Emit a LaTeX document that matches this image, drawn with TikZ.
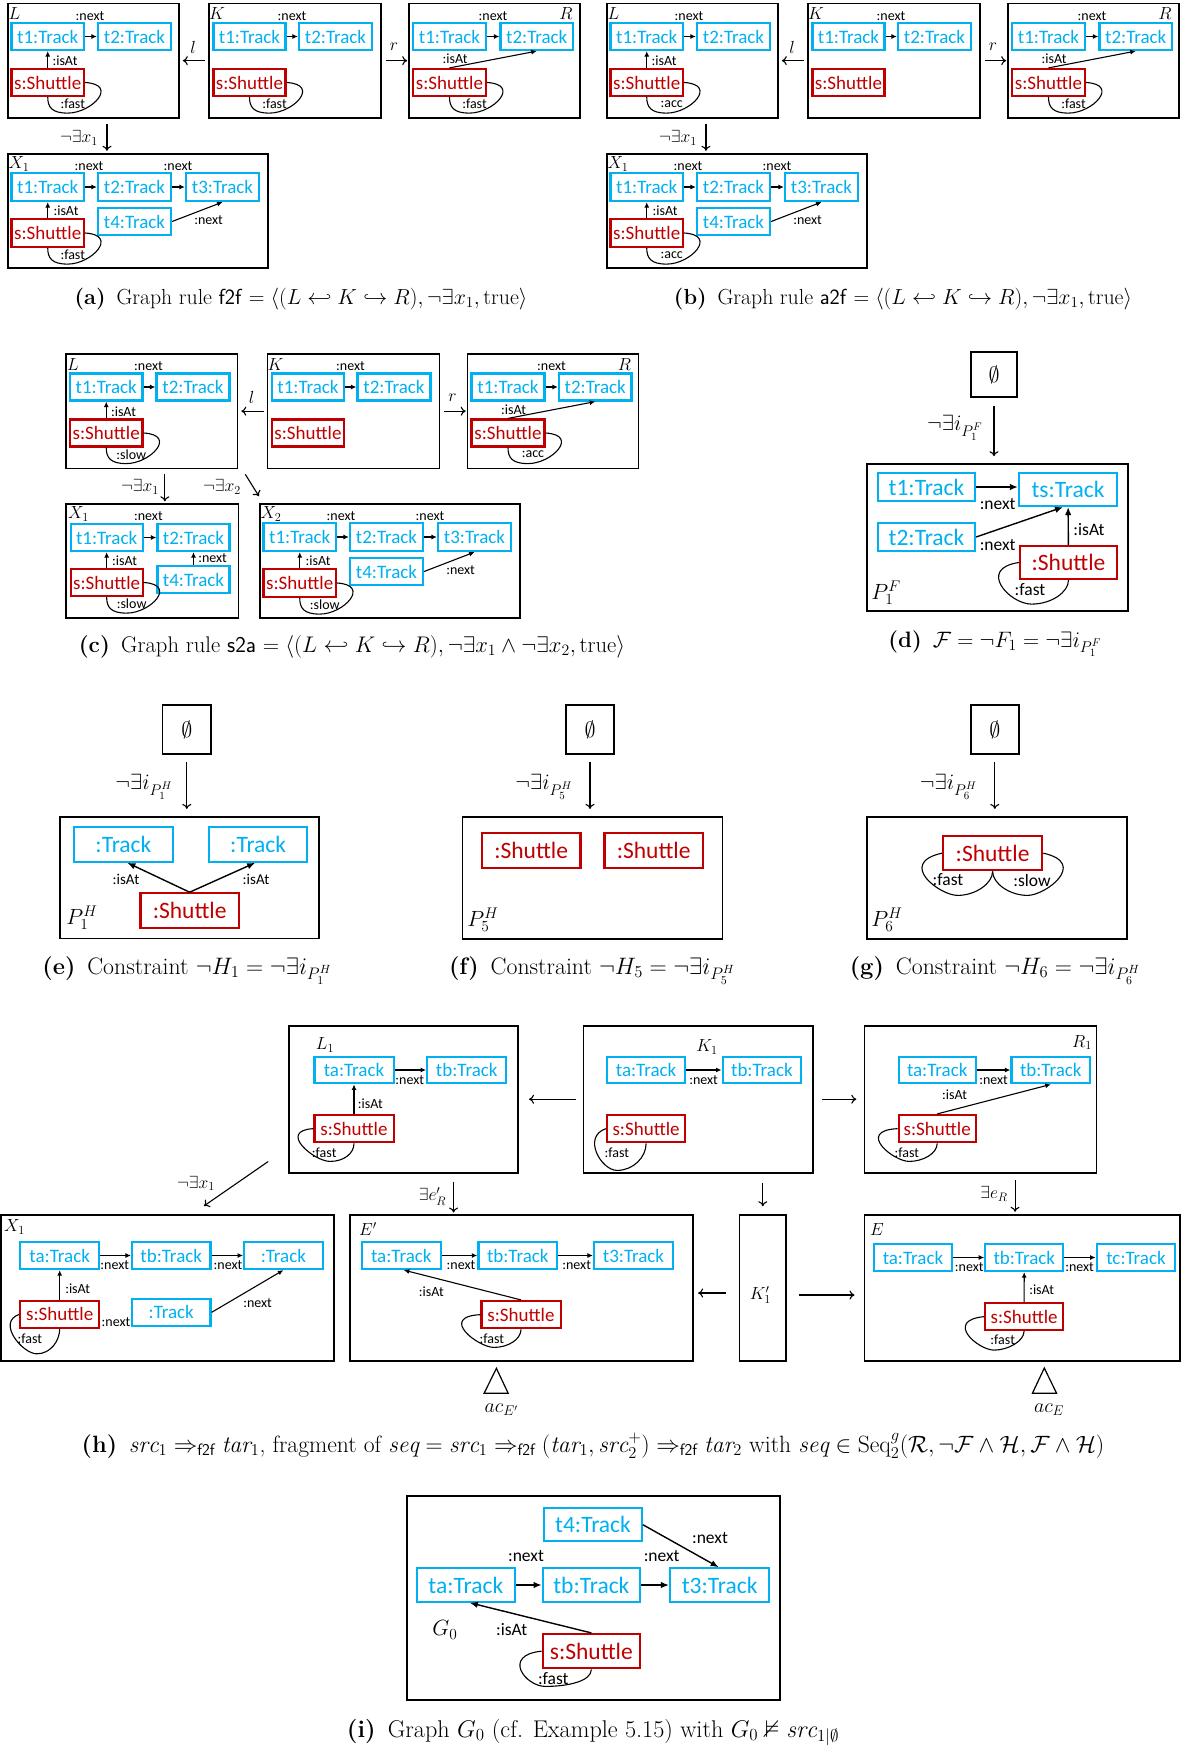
\RequirePackage{fix-cm}
\documentclass[tikz,border=0pt]{standalone}
\usepackage{amsmath,amssymb}
\usepackage{fontspec}
\newfontfamily\carl{Carlito}
\usetikzlibrary{arrows.meta,calc}

\definecolor{trkc}{RGB}{0,176,240}
\definecolor{shuc}{RGB}{192,0,0}

\newcommand\nfA{\carl\fontsize{19}{21}\selectfont}
\newcommand\nfB{\carl\fontsize{23.5}{26}\selectfont}
\newcommand\lfA{\carl\fontsize{14}{16}\selectfont}
\newcommand\lfB{\carl\fontsize{17.5}{19}\selectfont}
\newcommand\lfE{\carl\fontsize{15}{17}\selectfont}
\newcommand\mfA{\fontsize{17.5}{19}\selectfont}
\newcommand\mfB{\fontsize{22}{24}\selectfont}
\newcommand\mfC{\fontsize{20}{22}\selectfont}

\tikzset{
  trk/.style={draw=trkc,text=trkc,line width=2.2pt,inner sep=0pt},
  shu/.style={draw=shuc,text=shuc,line width=2.2pt,inner sep=0pt},
  frm/.style={draw=black,line width=1.6pt,inner sep=0pt},
  nA/.style={font=\nfA}, nB/.style={font=\nfB},
  lA/.style={font=\lfA,inner sep=0pt}, lB/.style={font=\lfB,inner sep=0pt},
  lE/.style={font=\lfE,inner sep=0pt},
  mA/.style={font=\mfA,inner sep=0pt}, mB/.style={font=\mfB,inner sep=0pt},
  mC/.style={font=\mfC,inner sep=0pt},
  edg/.style={-{Latex[length=5.5pt,width=5pt]},line width=1.1pt},
  edgB/.style={-{Latex[length=8pt,width=6.5pt]},line width=1.4pt},
  mor/.style={-{Computer Modern Rightarrow[length=5pt,width=9pt]},line width=1.1pt},
  lp/.style={line width=1.1pt},
  captxt/.style={font=\fontsize{#1}{#1}\selectfont,inner sep=0pt,anchor=base},
}

\newcounter{lbc}
% free label
\newcommand\Lb[4]{\stepcounter{lbc}\node[#1] (lb\arabic{lbc}) at (#2,#3) {#4};}
% box given by its corners
\newcommand\Bx[7]{\node[#6,minimum width={(#4)-(#2)},minimum height={(#5)-(#3)}] (#1) at ({((#2)+(#4))/2},{((#3)+(#5))/2}) {#7};}
% self loop hanging to the lower right of a node
\newcommand\LoopR[2]{%
  \draw[lp] (#1.east) .. controls +(34,2) and +(24,0) .. ($(#1.south)+(20,16)$)
     .. controls +(-16,0) and +(0,10) .. (#1.south);
  \node[lA] (#1lp) at ($(#1.south)+(25,7)$) {#2};}

% span L <- K -> R of a rule
\newcommand\RuleTop[4]{%
  \Bx{#1L}{7.7}{3.3}{179}{118}{frm}{}
  \Bx{#1K}{209}{3.3}{381}{118}{frm}{}
  \Bx{#1R}{409}{3.3}{580}{118}{frm}{}
  \Bx{#1La}{11.5}{23}{84}{50}{trk,nA}{t1:Track}
  \Bx{#1Lb}{98}{23}{171}{50}{trk,nA}{t2:Track}
  \Bx{#1Ls}{11.5}{69}{84}{96}{shu,nA}{s:Shuttle}
  \Bx{#1Ka}{213.5}{23}{285.5}{50}{trk,nA}{t1:Track}
  \Bx{#1Kb}{299}{23}{372}{50}{trk,nA}{t2:Track}
  \Bx{#1Ks}{213.5}{69}{285.5}{96}{shu,nA}{s:Shuttle}
  \Bx{#1Ra}{413}{23}{486}{50}{trk,nA}{t1:Track}
  \Bx{#1Rb}{500.5}{23}{573}{50}{trk,nA}{t2:Track}
  \Bx{#1Rs}{413}{69}{486}{96}{shu,nA}{s:Shuttle}
  \draw[edg] (#1La) -- (#1Lb);
  \draw[edg] (#1Ka) -- (#1Kb);
  \draw[edg] (#1Ra) -- (#1Rb);
  \draw[edg] (#1Ls) -- (#1La);
  \draw[edg] (#1Rs.north) -- (#1Rb.south);
  \LoopR{#1Ls}{#2}
  \if\relax\detokenize{#3}\relax\else\LoopR{#1Ks}{#3}\fi
  \LoopR{#1Rs}{#4}
  \Lb{mA}{14.5}{14}{$L$}
  \Lb{mA}{217}{14}{$K$}
  \Lb{mA}{566}{14}{$R$}
  \Lb{lA}{90}{16}{:next}
  \Lb{lA}{292}{16}{:next}
  \Lb{lA}{493}{16}{:next}
  \Lb{lA}{65}{61}{:isAt}
  \Lb{lA}{455}{59}{:isAt}
  \draw[mor,shorten <=3pt,shorten >=3pt] (#1K.west) -- (#1L.east);
  \draw[mor,shorten <=4pt,shorten >=1pt] (#1K.east) -- (#1R.west);
  \Lb{mA}{193}{47}{$l$}
  \Lb{mA}{394}{47}{$r$}
}

% application condition graph with four tracks
\newcommand\XGraph[3]{%
  \Bx{#1}{7.7}{154}{268}{268}{frm}{}
  \Bx{#1a}{11.5}{173}{84}{201}{trk,nA}{t1:Track}
  \Bx{#1b}{98}{173}{171}{201}{trk,nA}{t2:Track}
  \Bx{#1c}{186}{173}{259}{201}{trk,nA}{t3:Track}
  \Bx{#1d}{98}{208}{171}{235}{trk,nA}{t4:Track}
  \Bx{#1s}{11.5}{219}{84}{247}{shu,nA}{s:Shuttle}
  \draw[edg] (#1a) -- (#1b);
  \draw[edg] (#1b) -- (#1c);
  \draw[edg] (#1s) -- (#1a);
  \draw[edg] (#1d.east) -- (#1c.south);
  \LoopR{#1s}{#3}
  \Lb{mA}{19}{164}{$#2$}
  \Lb{lA}{89}{166}{:next}
  \Lb{lA}{178}{166}{:next}
  \Lb{lA}{66}{211}{:isAt}
  \Lb{lA}{208.6}{220}{:next}
}

\begin{document}
\begin{tikzpicture}[x=1pt,y=-1pt]
\useasboundingbox (0,0) rectangle (1182,1749);
\fill[white] (0,0) rectangle (1182,1749);

% ---------- (a) rule f2f ----------
\RuleTop{a}{:fast}{:fast}{:fast}
\XGraph{aX}{X_1}{:fast}
\draw[mor] ([xshift=13.6pt,yshift=-5pt]aL.south) -- ++(0,27);
\Lb{mA}{79}{138}{$\neg\exists x_1$}
\node[captxt=21.8] (capa) at (301,304.5) {\textbf{(a)}\enspace Graph rule \textsf{f2f} $=\langle(L\hookleftarrow K\hookrightarrow R),\neg\exists x_1,\mathrm{true}\rangle$};

% ---------- (b) rule a2f ----------
\begin{scope}[shift={(599,0)}]
  \RuleTop{b}{:acc}{}{:fast}
  \XGraph{bX}{X_1}{:acc}
  \draw[mor] ([xshift=13.6pt,yshift=-5pt]bL.south) -- ++(0,27);
  \Lb{mA}{79}{138}{$\neg\exists x_1$}
\end{scope}
\node[captxt=21.8] (capb) at (903,304.5) {\textbf{(b)}\enspace Graph rule \textsf{a2f} $=\langle(L\hookleftarrow K\hookrightarrow R),\neg\exists x_1,\mathrm{true}\rangle$};

% ---------- (c) rule s2a ----------
\begin{scope}[shift={(58.5,350.5)}]
  \RuleTop{c}{:slow}{}{:acc}
\end{scope}
\begin{scope}[shift={(252,350)}]
  \XGraph{cY}{X_2}{:slow}
\end{scope}
\Bx{cX}{66}{504}{238.3}{618}{frm}{}
\Bx{cXa}{70.7}{524}{142.6}{551}{trk,nA}{t1:Track}
\Bx{cXb}{157.5}{524}{229.5}{551}{trk,nA}{t2:Track}
\Bx{cXd}{157.5}{566}{229.5}{593}{trk,nA}{t4:Track}
\Bx{cXs}{70.7}{569}{142.6}{596}{shu,nA}{s:Shuttle}
\draw[edg] (cXa) -- (cXb);
\draw[edg] (cXs) -- (cXa);
\draw[edg] (cXd) -- (cXb);
\LoopR{cXs}{:slow}
\Lb{mA}{78.6}{514}{$X_1$}
\Lb{lA}{148.4}{516}{:next}
\Lb{lA}{124.6}{561}{:isAt}
\Lb{lA}{212.6}{558}{:next}
\draw[mor] ([xshift=13pt,yshift=-5pt]cL.south) -- ++(0,27);
\Lb{mA}{140}{487}{$\neg\exists x_1$}
\draw[mor] ($(cL.south east)+(7,5)$) -- ($(cY.north west)+(0,-7)$);
\Lb{mA}{222}{487}{$\neg\exists x_2$}
\node[captxt=22.6] (capc) at (352,652) {\textbf{(c)}\enspace Graph rule \textsf{s2a} $=\langle(L\hookleftarrow K\hookrightarrow R),\neg\exists x_1\wedge\neg\exists x_2,\mathrm{true}\rangle$};

% ---------- (d) forbidden pattern ----------
\Bx{dE}{971}{352}{1017}{397}{frm,font=\fontsize{22}{24}\selectfont}{$\emptyset$}
\Bx{dP}{867}{464}{1128}{611}{frm}{}
\draw[mor,shorten <=8pt,shorten >=7pt] (dE.south) -- (dE.south |- dP.north);
\Lb{mB}{955}{428}{$\neg\exists i_{P_1^F}$}
\Bx{da}{878}{473}{975}{501}{trk,nB}{t1:Track}
\Bx{dt}{1019}{473}{1117}{506}{trk,nB}{ts:Track}
\Bx{db}{878}{523}{975}{551}{trk,nB}{t2:Track}
\Bx{ds}{1020}{546}{1117}{579}{shu,nB}{:Shuttle}
\draw[edgB] (da.east) -- (da.east -| dt.west);
\draw[edgB] (db.east) -- ([xshift=-5pt]dt.south);
\draw[edgB] (ds) -- (dt);
\draw[lp] (ds.west) .. controls +(-42,6) and +(-22,0) .. ($(ds.south)+(-37,24)$)
   .. controls +(20,0) and +(0,12) .. (ds.south);
\Lb{lB}{997.7}{504}{:next}
\Lb{lB}{997.7}{545}{:next}
\Lb{lB}{1089}{529.3}{:isAt}
\Lb{lB}{1030}{590}{:fast}
\Lb{mB}{886}{593}{$P_1^F$}
\node[captxt=22.3] (capd) at (995,647) {\textbf{(d)}\enspace $\mathcal{F}=\neg F_1=\neg\exists i_{P_1^F}$};

% ---------- (e) constraint H1 ----------
\Bx{eE}{162.4}{705}{211.2}{754}{frm,font=\fontsize{22}{24}\selectfont}{$\emptyset$}
\Bx{eP}{59.7}{816.7}{319}{938.3}{frm}{}
\draw[mor,shorten <=7pt,shorten >=7pt] (eE.south) -- (eE.south |- eP.north);
\Lb{mB}{144}{787}{$\neg\exists i_{P_1^H}$}
\Bx{ea}{74.2}{827.3}{172.6}{861.7}{trk,nB}{:Track}
\Bx{eb}{209}{827.3}{307.3}{861.7}{trk,nB}{:Track}
\Bx{es}{140.5}{893.3}{238.8}{927.7}{shu,nB}{:Shuttle}
\draw[edgB] (es.north) -- ([xshift=4pt]ea.south);
\draw[edgB] (es.north) -- ([xshift=-3pt]eb.south);
\Lb{lE}{126}{879}{:isAt}
\Lb{lE}{256}{879}{:isAt}
\Lb{mB}{82}{918}{$P_1^H$}
\node[captxt=23.8] (cape) at (187,974) {\textbf{(e)}\enspace Constraint $\neg H_1=\neg\exists i_{P_1^H}$};

% ---------- (f) constraint H5 ----------
\Bx{fE}{566}{705}{614}{754}{frm,font=\fontsize{22}{24}\selectfont}{$\emptyset$}
\Bx{fP}{462.4}{816.7}{722.4}{939}{frm}{}
\draw[mor,shorten <=7pt,shorten >=7pt] (fE.south) -- (fE.south |- fP.north);
\Lb{mB}{544}{787}{$\neg\exists i_{P_5^H}$}
\Bx{fa}{482}{833.3}{580.4}{867.7}{shu,nB}{:Shuttle}
\Bx{fb}{604.5}{833.3}{702.8}{867.7}{shu,nB}{:Shuttle}
\Lb{mB}{483}{920}{$P_5^H$}
\node[captxt=23.8] (capf) at (592,974) {\textbf{(f)}\enspace Constraint $\neg H_5=\neg\exists i_{P_5^H}$};

% ---------- (g) constraint H6 ----------
\Bx{gE}{970.8}{705}{1018.8}{754}{frm,font=\fontsize{22}{24}\selectfont}{$\emptyset$}
\Bx{gP}{866.7}{816.7}{1126.7}{939}{frm}{}
\draw[mor,shorten <=7pt,shorten >=7pt] (gE.south) -- (gE.south |- gP.north);
\Lb{mB}{948.5}{787}{$\neg\exists i_{P_6^H}$}
\Bx{gs}{943}{836}{1042.2}{870.3}{shu,nB}{:Shuttle}
\draw[lp] (gs.west) .. controls +(-45,10) and +(-18,0) .. ($(gs.south)+(-35,24)$)
   .. controls +(18,0) and +(0,12) .. (gs.south);
\draw[lp] (gs.east) .. controls +(45,10) and +(18,0) .. ($(gs.south)+(35,24)$)
   .. controls +(-18,0) and +(0,12) .. (gs.south);
\Lb{lB}{948}{880}{:fast}
\Lb{lB}{1032}{880}{:slow}
\Lb{mB}{887}{920}{$P_6^H$}
\node[captxt=23.8] (capg) at (995,974) {\textbf{(g)}\enspace Constraint $\neg H_6=\neg\exists i_{P_6^H}$};

% ---------- (h) transformation step ----------
% L1
\Bx{hL}{289}{1025.7}{518.2}{1172.7}{frm}{}
\Bx{hLa}{314.4}{1056.7}{393.6}{1083.3}{trk,nA}{ta:Track}
\Bx{hLb}{427.2}{1056.7}{506.3}{1083.3}{trk,nA}{tb:Track}
\Bx{hLs}{314.4}{1115}{393.6}{1142.3}{shu,nA}{s:Shuttle}
\draw[edg] (hLa) -- (hLb);
\draw[edg] (hLs) -- (hLa);
\draw[lp] (hLs.west) .. controls +(-36,2) and +(-16,0) .. ($(hLs.south)+(-24,18)$)
   .. controls +(14,0) and +(0,10) .. (hLs.south);
\Lb{mA}{325}{1045}{$L_1$}
\Lb{lA}{409.8}{1080}{:next}
\Lb{lA}{370.3}{1103.3}{:isAt}
\Lb{lA}{324.2}{1152.7}{:fast}
% K1
\Bx{hK}{583.3}{1025.7}{813}{1172.7}{frm}{}
\Bx{hKa}{607}{1056.7}{685.2}{1083.3}{trk,nA}{ta:Track}
\Bx{hKb}{722.6}{1056.7}{801.2}{1083.3}{trk,nA}{tb:Track}
\Bx{hKs}{607}{1115}{685.2}{1142.3}{shu,nA}{s:Shuttle}
\draw[edg] (hKa) -- (hKb);
\draw[lp] (hKs.west) .. controls +(-24,8) and +(-16,0) .. ($(hKs.south)+(-29,27)$)
   .. controls +(16,0) and +(0,14) .. (hKs.south);
\Lb{mA}{707}{1047}{$K_1$}
\Lb{lA}{703.6}{1080}{:next}
\Lb{lA}{616.9}{1152.7}{:fast}
% R1
\Bx{hR}{864.6}{1025.7}{1096.5}{1172.7}{frm}{}
\Bx{hRa}{898.7}{1056.7}{975.7}{1083.3}{trk,nA}{ta:Track}
\Bx{hRb}{1011.5}{1056.7}{1090}{1083.3}{trk,nA}{tb:Track}
\Bx{hRs}{898.7}{1115}{975.7}{1142.3}{shu,nA}{s:Shuttle}
\draw[edg] (hRa) -- (hRb);
\draw[edg] (hRs.north) -- (hRb.south);
\draw[lp] (hRs.west) .. controls +(-42,2) and +(-16,0) .. ($(hRs.south)+(-28,18)$)
   .. controls +(14,0) and +(0,10) .. (hRs.south);
\Lb{mA}{1082}{1042.5}{$R_1$}
\Lb{lA}{993.6}{1080}{:next}
\Lb{lA}{954.5}{1095}{:isAt}
\Lb{lA}{906.8}{1152.7}{:fast}
\draw[mor,shorten <=7pt,shorten >=10pt] (hK.west) -- (hL.east);
\draw[mor,shorten <=8pt,shorten >=7.5pt] (hK.east) -- (hR.west);
% X1
\Bx{hX}{0.8}{1215}{334}{1361}{frm}{}
\Bx{hXa}{20.3}{1242}{99.1}{1269}{trk,nA}{ta:Track}
\Bx{hXb}{132}{1242}{210.5}{1269}{trk,nA}{tb:Track}
\Bx{hXc}{244.2}{1242}{322.6}{1269}{trk,nA}{:Track}
\Bx{hXs}{20.3}{1301}{99.1}{1327.7}{shu,nA}{s:Shuttle}
\Bx{hXd}{132}{1299}{210.5}{1325.7}{trk,nA}{:Track}
\draw[edg] (hXa) -- (hXb);
\draw[edg] (hXb) -- (hXc);
\draw[edg] (hXs) -- (hXa);
\draw[edg] (hXd.east) -- (hXc.south);
\draw[lp] (hXs.west) .. controls +(-23,8) and +(-14,0) .. ($(hXs.south)+(-23,25)$)
   .. controls +(14,0) and +(0,12) .. (hXs.south);
\Lb{mA}{14.5}{1227}{$X_1$}
\Lb{lA}{114.8}{1265}{:next}
\Lb{lA}{228}{1265}{:next}
\Lb{lA}{77.7}{1288.3}{:isAt}
\Lb{lA}{116}{1321.7}{:next}
\Lb{lA}{257.6}{1302.7}{:next}
\Lb{lA}{29.9}{1338.3}{:fast}
\coordinate (hxs) at ($(hL.south west)+(-20,-12)$);
\coordinate (hxe) at ($(hX.north)+(36.6,-8.3)$);
\draw[mor] (hxs) -- (hxe);
\Lb{mA}{196}{1183.3}{$\neg\exists x_1$}
% E'
\Bx{hE}{350.2}{1215}{692.8}{1361}{frm}{}
\Bx{hEa}{361.7}{1242}{440.9}{1269}{trk,nA}{ta:Track}
\Bx{hEb}{478.4}{1242}{557.2}{1269}{trk,nA}{tb:Track}
\Bx{hEc}{594}{1242}{673}{1269}{trk,nA}{t3:Track}
\Bx{hEs}{481.4}{1301}{560.6}{1328.3}{shu,nA}{s:Shuttle}
\draw[edg] (hEa) -- (hEb);
\draw[edg] (hEb) -- (hEc);
\draw[edg] (hEs.north) -- ([xshift=2.5pt]hEa.south);
\draw[lp] (hEs.west) .. controls +(-42,2) and +(-16,0) .. ($(hEs.south)+(-27,18)$)
   .. controls +(14,0) and +(0,10) .. (hEs.south);
\Lb{mA}{368}{1229}{$E'$}
\Lb{lA}{461}{1265}{:next}
\Lb{lA}{576.7}{1265}{:next}
\Lb{lA}{431.3}{1291.7}{:isAt}
\Lb{lA}{491.8}{1338.3}{:fast}
\draw[mor] ([xshift=50pt,yshift=-8pt]hL.south) -- ++(0,31);
\Lb{mA}{432.5}{1196.7}{$\exists e'_R$}
\draw[line width=1.2pt] (496.4,1368.3) -- (508.2,1393.3) -- (484.1,1393.3) -- cycle;
\Lb{mC}{501.3}{1409.3}{$ac_{E'}$}
% K1'
\Bx{hKp}{739.6}{1215}{786}{1361}{frm}{}
\Lb{mA}{760.4}{1295}{$K'_1$}
\draw[mor,shorten <=9pt,shorten >=8pt] (hK.south -| hKp.north) -- (hKp.north);
\coordinate (kpL) at ($(hKp.west)+(0,5)$);
\draw[mor,shorten <=13pt,shorten >=4.5pt] (kpL) -- (kpL -| hE.east);
\coordinate (kpR) at ($(hKp.east)+(0,7)$);
% E
\Bx{hF}{864.3}{1215}{1180}{1361}{frm}{}
\Bx{hFa}{874}{1244}{951.9}{1271}{trk,nA}{ta:Track}
\Bx{hFb}{985.3}{1244}{1063.2}{1271}{trk,nA}{tb:Track}
\Bx{hFc}{1096.7}{1244}{1175.3}{1271}{trk,nA}{tc:Track}
\Bx{hFs}{985}{1303.3}{1063.2}{1330}{shu,nA}{s:Shuttle}
\draw[edg] (hFa) -- (hFb);
\draw[edg] (hFb) -- (hFc);
\draw[edg] (hFs) -- (hFb);
\draw[lp] (hFs.west) .. controls +(-40,4) and +(-16,0) .. ($(hFs.south)+(-30,19)$)
   .. controls +(14,0) and +(0,10) .. (hFs.south);
\Lb{mA}{877}{1230}{$E$}
\Lb{lA}{969.3}{1266.7}{:next}
\Lb{lA}{1079.6}{1266.7}{:next}
\Lb{lA}{1041.7}{1290}{:isAt}
\Lb{lA}{1002.7}{1340}{:fast}
\draw[mor,shorten <=12.6pt,shorten >=9pt] (kpR) -- (kpR -| hF.west);
\draw[mor] ([xshift=34.5pt,yshift=-6.6pt]hR.south) -- ++(0,31.7);
\Lb{mA}{994}{1194}{$\exists e_R$}
\draw[line width=1.2pt] (1044.3,1368) -- (1056.6,1393.3) -- (1032.4,1393.3) -- cycle;
\Lb{mC}{1049.1}{1410}{$ac_E$}
\node[captxt=23.6] (caph) at (593,1452) {\textbf{(h)}\enspace $\mathit{src}_1\Rightarrow_{\mathsf{f2f}}\mathit{tar}_1$, fragment of $\mathit{seq}=\mathit{src}_1\Rightarrow_{\mathsf{f2f}}(\mathit{tar}_1,\mathit{src}_2^+)\Rightarrow_{\mathsf{f2f}}\mathit{tar}_2$ with $\mathit{seq}\in\mathrm{Seq}_2^g(\mathcal{R},\neg\mathcal{F}\wedge\mathcal{H},\mathcal{F}\wedge\mathcal{H})$};

% ---------- (i) start graph G0 ----------
\Bx{iG}{406.7}{1496}{780}{1700}{frm}{}
\Bx{id}{544.3}{1508.3}{641.7}{1541}{trk,nB}{t4:Track}
\Bx{ia}{416.7}{1568.3}{515}{1601.7}{trk,nB}{ta:Track}
\Bx{ib}{542.7}{1568.3}{640}{1601.7}{trk,nB}{tb:Track}
\Bx{ic}{670}{1568.3}{769.3}{1601.7}{trk,nB}{t3:Track}
\Bx{iS}{542.7}{1634}{640}{1668.3}{shu,nB}{s:Shuttle}
\draw[edgB] (ia) -- (ib);
\draw[edgB] (ib) -- (ic);
\draw[edgB] (id.east) -- ([xshift=-1pt]ic.north);
\draw[edgB] (iS.north) -- ([xshift=4pt]ia.south);
\draw[lp] (iS.west) .. controls +(-40,4) and +(-20,0) .. ($(iS.south)+(-46,17)$)
   .. controls +(22,0) and +(0,12) .. (iS.south);
\Lb{lB}{526}{1556}{:next}
\Lb{lB}{661.7}{1556}{:next}
\Lb{lB}{710}{1538.3}{:next}
\Lb{lB}{511.7}{1630}{:isAt}
\Lb{lB}{553.3}{1678.3}{:fast}
\Lb{mB}{445}{1630}{$G_0$}
\node[captxt=24.2] (capi) at (593,1737) {\textbf{(i)}\enspace Graph $G_0$ (cf. Example 5.15) with $G_0\nvDash\mathit{src}_{1|\emptyset}$};

\end{tikzpicture}
\end{document}
